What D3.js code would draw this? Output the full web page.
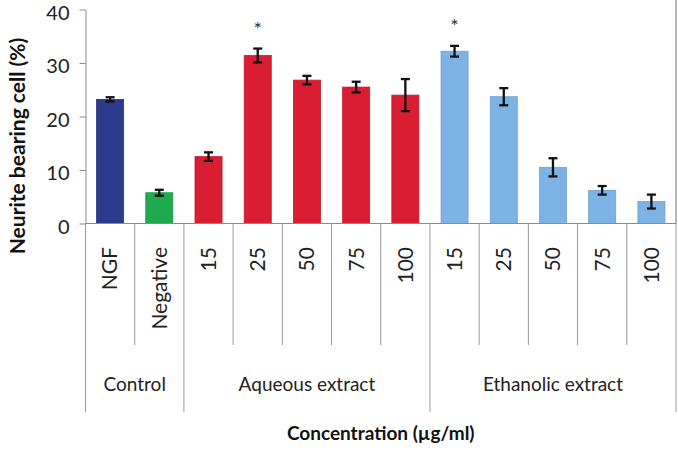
<!DOCTYPE html>
<html><head><meta charset="utf-8">
<script src="https://cdn.jsdelivr.net/npm/d3@7"></script>
<style>body{margin:0;background:#fff}svg{display:block}</style>
</head><body><svg id="c" width="678" height="455"></svg>
<script>
// ---- data ----
const categories = ["NGF","Negative","15","25","50","75","100","15","25","50","75","100"];
const values = [23.2,5.75,12.5,31.4,26.8,25.5,24.0,32.2,23.7,10.5,6.2,4.1];
const errors = [0.4,0.55,0.8,1.3,0.8,1.0,3.0,1.0,1.6,1.7,0.8,1.3];
const significant = [false,false,false,true,false,false,false,true,false,false,false,false];
const groupNames = ["Control","Aqueous extract","Ethanolic extract"];
const groupSizes = [2,5,5];
const yTicks = [0,10,20,30,40];
const yLabel = "Neurite bearing cell (%)";
const xLabel = "Concentration (µg/ml)";

// ---- style ----
const barColors = ["#2c3a8c","#1eaa4e","#d91e33","#d91e33","#d91e33","#d91e33","#d91e33","#7db2e5","#7db2e5","#7db2e5","#7db2e5","#7db2e5"];
const FONT = "Lato, 'Open Sans', sans-serif";
const axisColor = "#8a8a86";

const svg = d3.select("#c");
const x = d3.scaleBand().domain(d3.range(categories.length)).range([85.5, 676]).paddingInner(0.45).paddingOuter(0.225);
const y = d3.scaleLinear().domain([0, 40]).range([223.5, 9.5]);
const x0 = x.range()[0], step = x.step();
const bx = i => x0 + i * step;

// y axis
const ya = svg.append("g").attr("transform", `translate(${x0},0)`)
  .call(d3.axisLeft(y).tickValues(yTicks).tickSize(6).tickSizeOuter(0).tickPadding(10));
ya.select(".domain").attr("stroke", axisColor);
ya.selectAll(".tick line").attr("stroke", axisColor);
ya.selectAll("text").attr("font-family", FONT).attr("font-size", 20).attr("fill", "#222").attr("dy", "0.48em");

// bars
svg.append("g").selectAll("rect").data(values).join("rect")
  .attr("x", (d,i) => x(i)).attr("width", x.bandwidth())
  .attr("y", d => y(d)).attr("height", d => y(0) - y(d))
  .attr("fill", (d,i) => barColors[i])
  .attr("stroke", (d,i) => d3.color(barColors[i]).darker(0.3)).attr("stroke-width", 0.8);

// error bars
const eb = svg.append("g").attr("stroke", "#111").attr("stroke-width", 2.3).attr("fill", "none");
values.forEach((v,i) => {
  const cx = x(i) + x.bandwidth()/2;
  const t = y(v + errors[i]), b = y(v - errors[i]);
  eb.append("line").attr("x1", cx).attr("x2", cx).attr("y1", t).attr("y2", b);
  eb.append("line").attr("x1", cx-4.5).attr("x2", cx+4.5).attr("y1", t).attr("y2", t);
  eb.append("line").attr("x1", cx-4.5).attr("x2", cx+4.5).attr("y1", b).attr("y2", b);
});

// asterisks
svg.append("g").selectAll("text").data(values.map((v,i)=>({v,i})).filter(d => significant[d.i])).join("text")
  .attr("x", d => x(d.i) + x.bandwidth()/2)
  .attr("y", d => y(d.v + errors[d.i]) - 23 + 10)
  .attr("text-anchor", "middle").attr("font-family", FONT).attr("font-size", 20).attr("fill", "#333")
  .text("*");

// x axis line
svg.append("line").attr("x1", x0).attr("x2", x.range()[1]).attr("y1", y(0)).attr("y2", y(0)).attr("stroke", axisColor).attr("stroke-width", 1.2);

// separators
const groupBounds = [0];
groupSizes.forEach(s => groupBounds.push(groupBounds[groupBounds.length-1] + s));
const sep = svg.append("g").attr("stroke", "#9a9a9a").attr("stroke-width", 1);
for (let i = 0; i <= categories.length; i++) {
  const isGroup = groupBounds.includes(i);
  sep.append("line").attr("x1", bx(i)).attr("x2", bx(i)).attr("y1", y(0)).attr("y2", isGroup ? 412 : 345);
}
// right border line
svg.append("line").attr("x1", bx(categories.length)).attr("x2", bx(categories.length)).attr("y1", 0).attr("y2", y(0)).attr("stroke", axisColor).attr("stroke-width", 1.2);

// category labels (rotated)
svg.append("g").selectAll("text").data(categories).join("text")
  .attr("transform", (d,i) => `translate(${x(i) + x.bandwidth()/2},247) rotate(-90)`)
  .attr("text-anchor", "end").attr("dy", "0.35em")
  .attr("font-family", FONT).attr("font-size", 21).attr("fill", "#222")
  .text(d => d);

// group labels
svg.append("g").selectAll("text").data(groupNames).join("text")
  .attr("x", (d,k) => (bx(groupBounds[k]) + bx(groupBounds[k+1])) / 2)
  .attr("y", 384).attr("dy", "0.35em").attr("text-anchor", "middle")
  .attr("font-family", FONT).attr("font-size", 19).attr("fill", "#222")
  .text(d => d);

// axis titles
svg.append("text").attr("x", (x0 + x.range()[1]) / 2).attr("y", 433).attr("dy", "0.35em")
  .attr("text-anchor", "middle").attr("font-family", FONT).attr("font-weight", "bold").attr("font-size", 19).attr("fill", "#111")
  .text(xLabel);
svg.append("text").attr("transform", "translate(18,146) rotate(-90)").attr("dy", "0.35em")
  .attr("text-anchor", "middle").attr("font-family", FONT).attr("font-weight", "bold").attr("font-size", 21).attr("fill", "#111")
  .text(yLabel);
</script></body></html>
